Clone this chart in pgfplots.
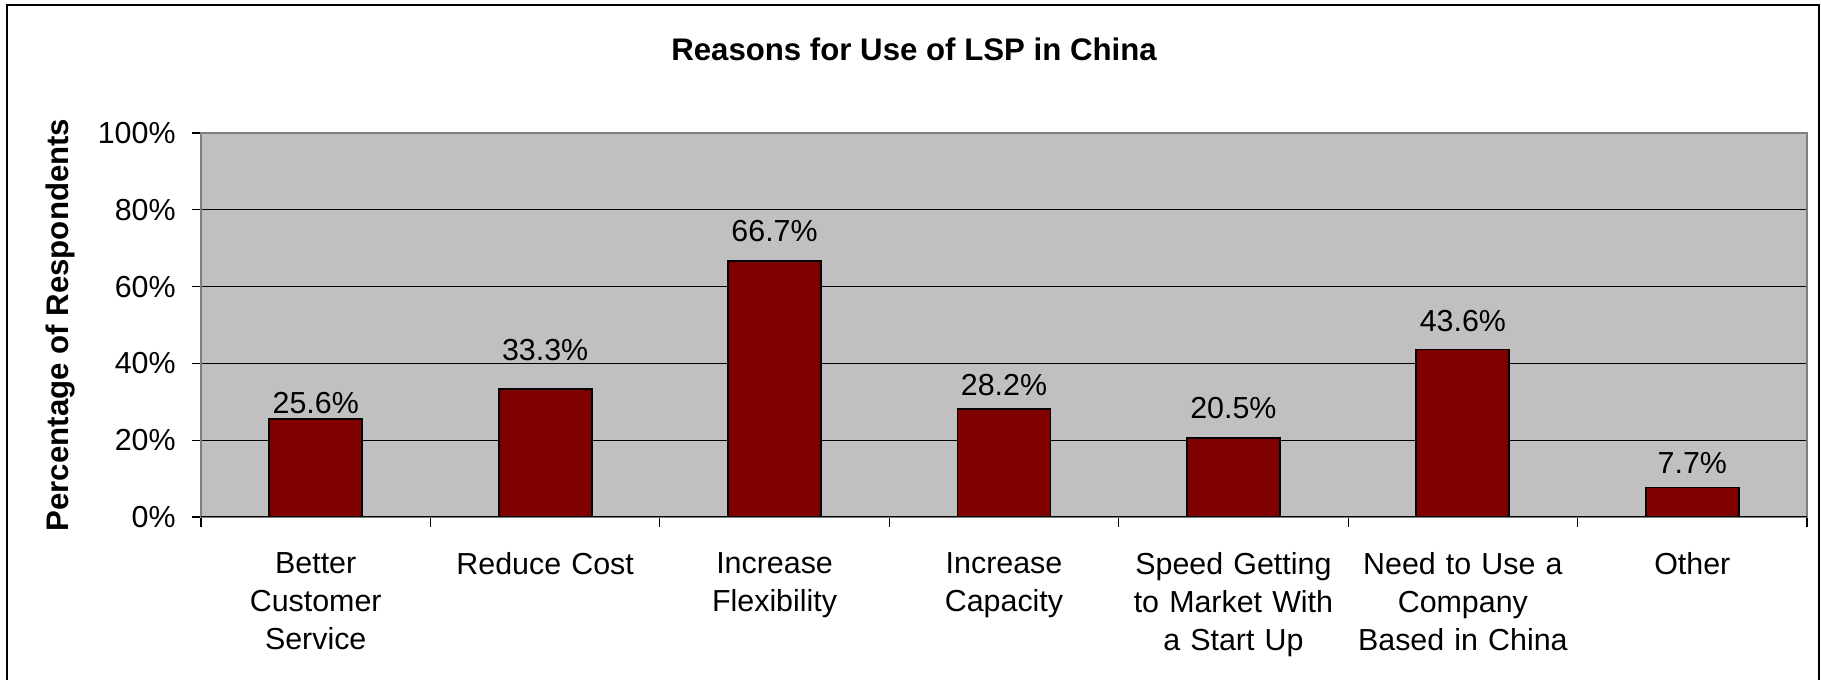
\documentclass[border=0pt]{standalone}
\usepackage{fontspec}
\setmainfont{Liberation Sans}
\usepackage{pgfplots}
\usepackage{pgfplotstable}
\pgfplotsset{compat=1.18}

\definecolor{plotbg}{RGB}{192,192,192}
\definecolor{barred}{RGB}{128,0,0}
\definecolor{boxgray}{RGB}{128,128,128}

% share of respondents per reason; gap = label baseline above bar top (pt)
\pgfplotstableread{
pos share gap
0.5 25.6 2.6
1.5 33.3 14.5
2.5 66.7 9.5
3.5 28.2 6.8
4.5 20.5 10
5.5 43.6 9
6.5 7.7 7
}\lspdata

\begin{document}
\begin{tikzpicture}
% outer chart frame
\draw[line width=1pt] (3.5pt,-5pt) -- (3.5pt,337.5pt) -- (909.5pt,337.5pt) -- (909.5pt,-5pt);
\node[anchor=base, font=\fontsize{15.6}{19}\selectfont\bfseries] at (457pt,309.5pt) {Reasons for Use of LSP in China};
\begin{axis}[
  at={(100.5pt,81.5pt)}, anchor=south west,
  scale only axis, width=803pt, height=192pt,
  xmin=0, xmax=7, ymin=0, ymax=100,
  axis background/.style={fill=plotbg},
  axis line style={draw=boxgray, line width=1pt},
  ymajorgrids, grid style={black, line width=0.6pt},
  ytick={0,20,40,60,80,100},
  yticklabels={0\%,20\%,40\%,60\%,80\%,100\%},
  xtick={0.5,1.5,2.5,3.5,4.5,5.5,6.5},
  xticklabels={{Better\\Customer\\Service},{Reduce Cost},{Increase\\Flexibility},{Increase\\Capacity},{Speed Getting\\to Market With\\a Start Up},{Need to Use a\\Company\\Based in China},{Other}},
  minor xtick={0,1,2,3,4,5,6,7},
  tick align=outside, tick pos=left,
  major tick length=4.5pt, minor tick length=5pt,
  tick style={black, line width=0.6pt},
  every major x tick/.append style={draw=none},
  ticklabel style={font=\fontsize{15.2}{19}\selectfont},
  xticklabel style={anchor=north, inner sep=0pt, text width=120pt, align=center, yshift=-13.2pt},
  yticklabel style={anchor=east, inner sep=0pt, xshift=-8pt},
  ylabel={Percentage of Respondents},
  every axis y label/.style={at={(axis description cs:-0.0825,0.5)}, rotate=90, anchor=base,
    font=\fontsize{15.6}{19}\selectfont\bfseries},
]
\addplot[ybar, bar width=46.5pt, fill=barred, draw=black, line width=0.9pt,
  visualization depends on={\thisrow{gap} \as \labgap},
  nodes near coords={\pgfmathprintnumber[fixed,fixed zerofill,precision=1,assume math mode=true]{\pgfplotspointmeta}\%},
  every node near coord/.append style={anchor=base, inner sep=0pt, yshift=\labgap pt,
    font=\fontsize{15.2}{19}\selectfont, black}]
  table[x=pos, y=share]{\lspdata};
\draw[black, line width=0.8pt] (axis cs:0,0) -- (axis cs:7,0);
\end{axis}
\pgfresetboundingbox
\useasboundingbox (0,0) rectangle (910.5pt,340pt);
\end{tikzpicture}
\end{document}
